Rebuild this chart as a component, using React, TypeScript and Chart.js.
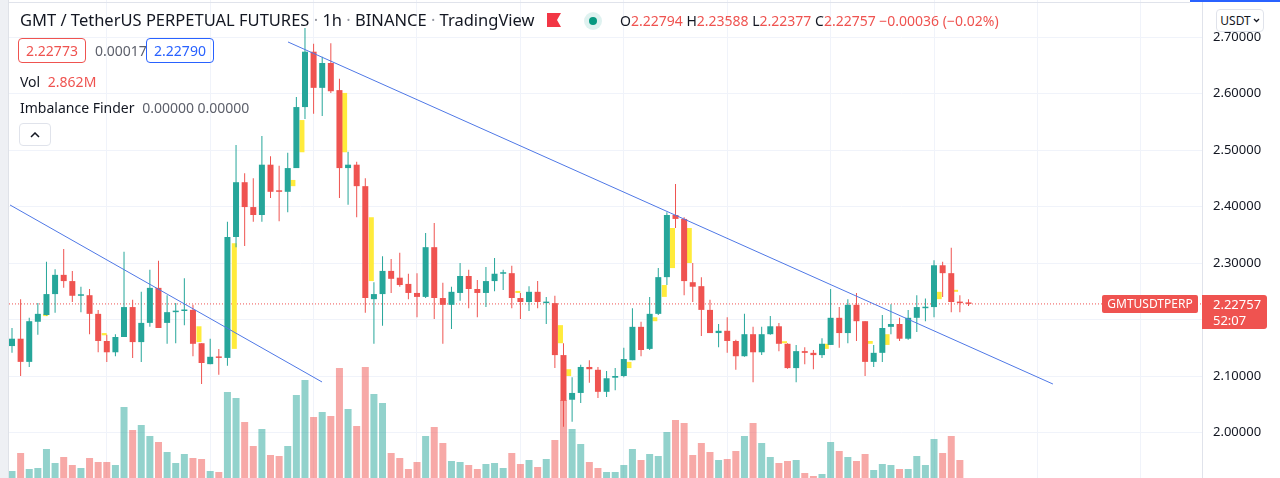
import React, { useEffect, useRef, useState } from 'react';
import { Chart, registerables } from 'chart.js';

Chart.register(...registerables);

// ---------------- data (hourly candles, GMT/USDT perpetual) ----------------
const opens = [2.153,2.166,2.125,2.196,2.208,2.245,2.279,2.268,2.242,2.243,
2.210,2.162,2.142,2.169,2.222,2.160,2.194,2.256,2.194,2.213,
2.215,2.217,2.158,2.121,2.134,2.132,2.346,2.443,2.399,2.385,
2.474,2.427,2.426,2.468,2.576,2.674,2.610,2.654,2.606,2.468,
2.474,2.436,2.236,2.245,2.286,2.274,2.263,2.247,2.240,2.328,
2.238,2.226,2.247,2.277,2.254,2.247,2.268,2.281,2.282,2.238,
2.231,2.249,2.229,2.229,2.137,2.058,2.070,2.116,2.111,2.072,
2.097,2.100,2.128,2.187,2.148,2.210,2.275,2.385,2.378,2.266,
2.259,2.217,2.176,2.180,2.162,2.135,2.174,2.142,2.174,2.188,
2.157,2.114,2.144,2.141,2.137,2.155,2.203,2.176,2.226,2.197,
2.125,2.141,2.187,2.192,2.166,2.203,2.220,2.222,2.296,2.282,
2.231,2.22794];

const highs = [2.185,2.236,2.203,2.229,2.302,2.289,2.325,2.286,2.258,2.254,
2.217,2.173,2.174,2.320,2.235,2.249,2.288,2.304,2.243,2.229,
2.273,2.226,2.158,2.166,2.148,2.373,2.509,2.459,2.450,2.525,
2.489,2.472,2.495,2.594,2.716,2.688,2.665,2.689,2.626,2.497,
2.479,2.450,2.266,2.312,2.307,2.318,2.281,2.282,2.353,2.371,
2.265,2.258,2.300,2.288,2.270,2.293,2.309,2.288,2.295,2.247,
2.259,2.268,2.240,2.242,2.158,2.098,2.120,2.128,2.116,2.109,
2.114,2.150,2.220,2.196,2.240,2.291,2.390,2.440,2.381,2.300,
2.275,2.235,2.192,2.204,2.164,2.210,2.187,2.187,2.206,2.194,
2.158,2.155,2.151,2.146,2.167,2.254,2.222,2.236,2.247,2.197,
2.155,2.208,2.227,2.203,2.217,2.243,2.237,2.305,2.302,2.327,
2.243,2.23588];

const lows = [2.141,2.100,2.116,2.173,2.207,2.212,2.256,2.231,2.213,2.174,
2.142,2.125,2.135,2.169,2.132,2.125,2.187,2.185,2.157,2.158,
2.190,2.135,2.086,2.121,2.102,2.118,2.328,2.330,2.373,2.373,
2.415,2.374,2.390,2.468,2.555,2.564,2.560,2.601,2.415,2.403,
2.381,2.212,2.157,2.189,2.247,2.258,2.236,2.204,2.238,2.201,
2.157,2.183,2.233,2.220,2.204,2.222,2.250,2.252,2.220,2.201,
2.215,2.220,2.192,2.114,2.010,2.019,2.052,2.088,2.061,2.063,
2.075,2.098,2.128,2.135,2.146,2.208,2.261,2.362,2.243,2.231,
2.171,2.176,2.151,2.141,2.111,2.134,2.089,2.137,2.173,2.144,
2.113,2.089,2.121,2.112,2.132,2.155,2.150,2.158,2.162,2.100,
2.116,2.125,2.174,2.162,2.164,2.178,2.197,2.204,2.240,2.213,
2.213,2.22377];

const closes = [2.166,2.125,2.197,2.210,2.245,2.279,2.268,2.242,2.244,2.210,
2.162,2.142,2.169,2.222,2.160,2.194,2.256,2.185,2.213,2.215,
2.217,2.157,2.123,2.134,2.132,2.346,2.443,2.399,2.385,2.474,
2.426,2.426,2.468,2.576,2.674,2.610,2.654,2.604,2.468,2.474,
2.436,2.238,2.245,2.286,2.272,2.261,2.247,2.240,2.328,2.238,
2.226,2.249,2.277,2.254,2.247,2.268,2.281,2.282,2.238,2.231,
2.249,2.231,2.231,2.137,2.056,2.070,2.116,2.112,2.072,2.096,
2.100,2.130,2.187,2.146,2.210,2.275,2.385,2.378,2.268,2.258,
2.217,2.176,2.180,2.162,2.135,2.174,2.142,2.174,2.188,2.157,
2.114,2.144,2.141,2.137,2.157,2.203,2.176,2.226,2.197,2.125,
2.141,2.185,2.192,2.166,2.203,2.222,2.222,2.296,2.282,2.231,
2.229,2.22757];

// volume in millions
const volumes = [3.39,4.65,3.53,3.60,4.93,3.95,4.37,3.81,3.60,4.30,
4.02,4.02,3.81,7.87,6.26,6.61,5.84,5.42,4.72,3.95,
4.58,4.30,4.23,3.39,3.32,8.92,8.50,6.82,5.14,6.33,
4.51,4.44,5.14,8.71,9.76,7.17,7.52,7.24,10.60,7.73,
6.54,10.67,8.78,8.15,4.65,4.30,3.53,4.02,5.84,6.47,
5.35,4.09,4.02,3.81,3.53,3.88,3.95,3.60,4.65,3.88,
4.16,3.67,4.23,5.56,8.36,6.33,5.28,4.02,3.60,3.32,
3.32,3.81,4.93,4.16,4.58,4.44,6.12,6.96,6.75,4.51,
5.35,4.72,4.16,4.23,4.79,5.84,6.75,5.35,4.37,3.95,
4.09,4.16,3.25,3.04,3.18,5.42,4.79,4.37,4.09,4.58,
3.46,3.88,3.81,3.53,3.53,4.44,3.81,5.63,4.65,5.84,
4.16,2.862];

// Imbalance Finder boxes (candle-index position, price range)
const imbalanceAt = [3.9,10.7,21.7,25.8,32.6,33.65,38.6,41.7,58.7,63.65,64.6,71.6,74.6,75.7,76.65,78.6,89.65,94.5,99.6,101.55,107.6,109.5];
const imbalanceLow = [2.206,2.172,2.160,2.148,2.436,2.496,2.496,2.268,2.247,2.158,2.100,2.114,2.197,2.240,2.291,2.300,2.158,2.148,2.157,2.155,2.236,2.249];
const imbalanceHigh = [2.210,2.176,2.188,2.335,2.447,2.553,2.601,2.381,2.250,2.190,2.112,2.125,2.204,2.261,2.362,2.362,2.160,2.157,2.162,2.174,2.249,2.251];

// trend lines (candle index, price)
const trend1X = [-0.23, 35.98];
const trend1Y = [2.4027, 2.0894];
const trend2X = [32.03, 120.8];
const trend2Y = [2.6912, 2.0858];

const priceTicks = [2.0, 2.1, 2.2, 2.3, 2.4, 2.5, 2.6, 2.7];
const priceTickLabels = ['2.00000', '2.10000', '2.20000', '2.30000', '2.40000', '2.50000', '2.60000', '2.70000'];
const lastPrice = 2.22757;

const FONT = '"Noto Sans", "Open Sans", sans-serif';
const GREEN = '#26a69a';
const RED = '#ef5350';

export default function App() {
  const canvasRef = useRef<HTMLCanvasElement | null>(null);
  const [priceY, setPriceY] = useState<number>(304);

  useEffect(() => {
    const canvas = canvasRef.current;
    if (!canvas) return;
    const idx = closes.map((_, i) => i);
    const isUp = (i: number) => closes[i] >= opens[i];
    const candleColors = idx.map((i) => (isUp(i) ? GREEN : RED));
    const volColors = idx.map((i) => (isUp(i) ? 'rgba(38,166,154,0.5)' : 'rgba(239,83,80,0.5)'));

    // visible window (in candle-index units) and price window
    const xMin = -1.3926;
    const xMax = 138.099;
    const yMin = 1.91947;
    const yMax = 2.76549;
    const gridIdx: number[] = [];
    for (let v = 5; v <= 137; v += 12) gridIdx.push(v);

    const chart = new Chart(canvas, {
      type: 'bar',
      data: {
        datasets: [
          {
            type: 'line',
            data: trend1X.map((x, k) => ({ x, y: trend1Y[k] })),
            borderColor: '#4f78e6',
            borderWidth: 1,
            pointRadius: 0,
            yAxisID: 'y',
            order: 0,
          } as any,
          {
            type: 'line',
            data: trend2X.map((x, k) => ({ x, y: trend2Y[k] })),
            borderColor: '#4f78e6',
            borderWidth: 1,
            pointRadius: 0,
            yAxisID: 'y',
            order: 0,
          } as any,
          {
            type: 'bar',
            data: idx.map((i) => ({ x: i, y: [opens[i], closes[i]] })),
            backgroundColor: candleColors,
            barThickness: 6,
            minBarLength: 1.5,
            grouped: false,
            inflateAmount: 0,
            yAxisID: 'y',
            order: 1,
          } as any,
          {
            type: 'bar',
            data: idx.map((i) => ({ x: i, y: [lows[i], highs[i]] })),
            backgroundColor: candleColors,
            barThickness: 1,
            grouped: false,
            inflateAmount: 0,
            yAxisID: 'y',
            order: 2,
          } as any,
          {
            type: 'bar',
            data: imbalanceAt.map((x, k) => ({ x, y: [imbalanceLow[k], imbalanceHigh[k]] })),
            backgroundColor: '#ffeb3b',
            barThickness: 5,
            minBarLength: 2,
            grouped: false,
            inflateAmount: 0,
            yAxisID: 'y',
            order: 3,
          } as any,
          {
            type: 'line',
            data: [{ x: xMin, y: lastPrice }, { x: xMax, y: lastPrice }],
            borderColor: RED,
            borderWidth: 1,
            borderDash: [1, 2],
            pointRadius: 0,
            yAxisID: 'y',
            order: 4,
          } as any,
          {
            type: 'bar',
            data: idx.map((i) => ({ x: i, y: volumes[i] })),
            backgroundColor: volColors,
            barThickness: 7,
            grouped: false,
            inflateAmount: 0,
            yAxisID: 'yv',
            order: 5,
          } as any,
        ],
      },
      options: {
        responsive: false,
        animation: false,
        events: [],
        layout: { padding: 0 },
        plugins: { legend: { display: false }, tooltip: { enabled: false } },
        scales: {
          x: {
            type: 'linear',
            min: xMin,
            max: xMax,
            offset: false,
            grid: { color: '#f0f3fa', drawTicks: false },
            border: { display: false },
            ticks: { display: false },
            afterBuildTicks: (s: any) => {
              s.ticks = gridIdx.map((v) => ({ value: v }));
            },
            afterFit: (s: any) => {
              s.height = 0;
              s.paddingLeft = 0;
              s.paddingRight = 0;
            },
          },
          y: {
            type: 'linear',
            position: 'right',
            min: yMin,
            max: yMax,
            grid: { color: '#f0f3fa', drawTicks: false },
            border: { display: true, color: '#e0e3eb' },
            ticks: {
              color: '#131722',
              padding: 11,
              font: { family: FONT, size: 13 },
              callback: (_v: any, i: number) => priceTickLabels[i],
            },
            afterBuildTicks: (s: any) => {
              s.ticks = priceTicks.map((v) => ({ value: v }));
            },
            afterFit: (s: any) => {
              s.width = 78;
              s.paddingTop = 0;
              s.paddingBottom = 0;
            },
          },
          yv: {
            type: 'linear',
            display: false,
            min: 2.9,
            max: 36.36,
          },
        },
      } as any,
    });
    setPriceY(chart.scales.y.getPixelForValue(lastPrice));
    return () => chart.destroy();
  }, []);

  const abs = (s: React.CSSProperties): React.CSSProperties => ({
    position: 'absolute',
    whiteSpace: 'nowrap',
    fontFamily: FONT,
    ...s,
  });
  const dot = <span style={{ color: '#9598a1' }}> · </span>;

  return (
    <div style={{ position: 'fixed', left: 0, top: 0, width: 1280, height: 478, background: '#ffffff', overflow: 'hidden', fontFamily: FONT }}>
      <canvas ref={canvasRef} width={1280} height={478} style={{ position: 'absolute', left: 0, top: 0 }} />

      {/* frame */}
      <div style={abs({ left: 0, top: 0, width: 8, height: 478, background: '#eef0f4', borderRight: '1px solid #dfe2e8' })} />
      <div style={abs({ left: 9, top: 2, width: 1181, height: 1, background: '#e0e3eb' })} />
      <div style={abs({ left: 1190, top: 0, width: 90, height: 2, background: '#2962ff' })} />

      {/* legend */}
      <div style={abs({ left: 20, top: 9, fontSize: 16.5, lineHeight: '22px', color: '#131722' })}>
        GMT / TetherUS PERPETUAL FUTURES{dot}1h{dot}BINANCE{dot}TradingView
      </div>
      <svg style={{ position: 'absolute', left: 547, top: 13 }} width={14} height={14} viewBox="0 0 14 14">
        <polygon points="0,0 14,0 10,7 14,14 0,14" fill="#f23645" />
      </svg>
      <div style={abs({ left: 584, top: 12, width: 18, height: 18, borderRadius: 9, background: 'rgba(38,166,154,0.15)' })} />
      <div style={abs({ left: 589, top: 17, width: 8, height: 8, borderRadius: 4, background: '#089981' })} />
      <div style={abs({ left: 620, top: 11, fontSize: 14, lineHeight: '20px', color: RED })}>
        <span style={{ color: '#131722' }}>O</span>2.22794 <span style={{ color: '#131722' }}>H</span>2.23588{' '}
        <span style={{ color: '#131722' }}>L</span>2.22377 <span style={{ color: '#131722' }}>C</span>2.22757 −0.00036 (−0.02%)
      </div>

      <div style={abs({ left: 18, top: 38, width: 68, height: 25, boxSizing: 'border-box', border: '1px solid ' + RED, borderRadius: 4, color: RED, fontSize: 14, display: 'flex', alignItems: 'center', justifyContent: 'center' })}>2.22773</div>
      <div style={abs({ left: 95, top: 38, height: 25, fontSize: 14, color: '#5d606b', display: 'flex', alignItems: 'center' })}>0.00017</div>
      <div style={abs({ left: 146, top: 38, width: 68, height: 25, boxSizing: 'border-box', border: '1px solid #2962ff', borderRadius: 4, color: '#2962ff', fontSize: 14, display: 'flex', alignItems: 'center', justifyContent: 'center' })}>2.22790</div>

      <div style={abs({ left: 20, top: 72, fontSize: 14, lineHeight: '20px', color: '#131722' })}>
        Vol <span style={{ color: RED, marginLeft: 4 }}>2.862M</span>
      </div>
      <div style={abs({ left: 20, top: 98, fontSize: 14, lineHeight: '20px', color: '#131722' })}>
        Imbalance Finder <span style={{ color: '#5d606b', marginLeft: 4 }}>0.00000 0.00000</span>
      </div>
      <div style={abs({ left: 19, top: 123, width: 32, height: 23, boxSizing: 'border-box', border: '1px solid #e0e3eb', borderRadius: 4, background: '#fff', display: 'flex', alignItems: 'center', justifyContent: 'center' })}>
        <svg width={10} height={6} viewBox="0 0 10 6">
          <polyline points="1,5 5,1 9,5" fill="none" stroke="#131722" strokeWidth={1.5} />
        </svg>
      </div>

      {/* currency button */}
      <div style={abs({ left: 1216, top: 9, width: 48, height: 23, boxSizing: 'border-box', border: '1px solid #e0e3eb', borderRadius: 4, background: '#fff', fontSize: 12, color: '#131722', display: 'flex', alignItems: 'center', justifyContent: 'center', gap: 2 })}>
        USDT
        <svg width={7} height={5} viewBox="0 0 7 5">
          <polyline points="1,1 3.5,3.5 6,1" fill="none" stroke="#131722" strokeWidth={1.3} />
        </svg>
      </div>

      {/* last price labels */}
      <div style={abs({ left: 1102, top: priceY - 9, width: 96, height: 18, background: RED, borderRadius: 2, color: '#fff', fontSize: 12, display: 'flex', alignItems: 'center', justifyContent: 'center' })}>GMTUSDTPERP</div>
      <div style={abs({ left: 1202, top: priceY - 9, width: 65, height: 34, background: RED, borderRadius: '0 3px 3px 0', color: '#fff', fontSize: 13, lineHeight: '16px', paddingLeft: 11, boxSizing: 'border-box', paddingTop: 1 })}>
        <div>2.22757</div>
        <div>52:07</div>
      </div>
    </div>
  );
}
